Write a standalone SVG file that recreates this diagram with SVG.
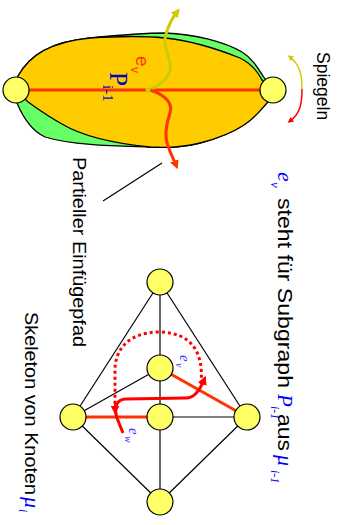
<svg xmlns="http://www.w3.org/2000/svg" width="342" height="525" viewBox="0 0 342 525">
<style>
.node{fill:#FFFF66;stroke:#000;stroke-width:1.2}
.blob{stroke:#000;stroke-width:1.3}
.edge{stroke:#000;stroke-width:1.2;fill:none}
.hot{stroke:#FF3300;stroke-width:3;fill:none}
.sans{font-family:"Liberation Sans",Arial,sans-serif;fill:#000}
.ser{font-family:"Liberation Serif","Times New Roman",serif;fill:#0000FF}
.it{font-style:italic}
</style>
<defs>
<marker id="ahYG" viewBox="0 0 10 10" refX="5" refY="5" markerWidth="9" markerHeight="9" markerUnits="userSpaceOnUse" orient="auto"><path d="M0,0 L10,5 L0,10 Z" fill="#CCCC00"/></marker>
<marker id="ahOR" viewBox="0 0 10 10" refX="5" refY="5" markerWidth="9" markerHeight="9" markerUnits="userSpaceOnUse" orient="auto"><path d="M0,0 L10,5 L0,10 Z" fill="#FF3300"/></marker>
<marker id="ahYGs" viewBox="0 0 10 10" refX="5" refY="5" markerWidth="6" markerHeight="6" markerUnits="userSpaceOnUse" orient="auto"><path d="M0,0 L10,5 L0,10 Z" fill="#CCCC00"/></marker>
<marker id="ahRs" viewBox="0 0 10 10" refX="5" refY="5" markerWidth="6" markerHeight="6" markerUnits="userSpaceOnUse" orient="auto"><path d="M0,0 L10,5 L0,10 Z" fill="#FF0000"/></marker>
<marker id="ahR" viewBox="0 0 10 10" refX="5" refY="5" markerWidth="9" markerHeight="9" markerUnits="userSpaceOnUse" orient="auto"><path d="M0,0 L10,5 L0,10 Z" fill="#FF0000"/></marker>
</defs>

<!-- top subgraph blob -->
<g id="blob">
<path class="blob" fill="#66FF66" d="M16,90 L18,76 C30,55 50,42 90,38 C120,35 140,33 165,33 C195,34 225,42 242,52 C252,58 258,68 265,79 L273,90 L268,101 C258,113 248,130 200,143 C180,148 165,148 150,147 C120,146 75,146 45,137 C30,130 22,115 17,103 Z"/>
<path class="blob" fill="#FFCC00" d="M16,90 L18,76 C30,55 50,42 90,38 C120,36 145,36 165,38 C195,41 220,50 240,58 C252,64 258,72 262,80 L273,90 L268,102 C258,112 250,130 200,143 C180,148 165,148 150,147 C110,143 82,136 62,124 C44,114 34,106 28,102 Z"/>
<line class="hot" x1="16" y1="90" x2="273" y2="90"/>
</g>

<g id="connectors">
<path d="M148,90 C160,86 173,76 170,63 C167,50 163,44 166,34 C169,24 173,17 177,12" stroke="#CCCC00" stroke-width="3" fill="none" marker-end="url(#ahYG)"/>
<path d="M150,90 C165,95 173,103 170,113 C166,125 164,136 168,146 C171,155 174,160 176,165" stroke="#FF3300" stroke-width="3" fill="none" marker-end="url(#ahOR)"/>
<circle cx="148" cy="90" r="2.5" fill="#CCCC00"/>
<path d="M302,89 C302,75 300,65 290,57" stroke="#CCCC00" stroke-width="1.5" fill="none" marker-end="url(#ahYGs)"/>
<path d="M302,89 C302,104 300,114 290,121" stroke="#FF0000" stroke-width="1.5" fill="none" marker-end="url(#ahRs)"/>
<line x1="162" y1="163" x2="103" y2="201" stroke="#000" stroke-width="1.2"/>

<!-- skeleton edges -->
<line class="edge" x1="160" y1="282" x2="73" y2="417"/>
<line class="edge" x1="160" y1="282" x2="247" y2="417"/>
<line class="edge" x1="160" y1="502" x2="73" y2="417"/>
<line class="edge" x1="160" y1="502" x2="247" y2="417"/>
<line class="edge" x1="160" y1="282" x2="160" y2="502"/>
<line class="edge" x1="73" y1="417" x2="160" y2="368"/>
<line class="edge" x1="160" y1="417" x2="247" y2="417"/>
<line class="hot" x1="73" y1="417" x2="160" y2="417"/>
<line class="hot" x1="160" y1="368" x2="247" y2="417"/>
<path d="M201,384 C204,350 190,333 160,332 C128,332 115,350 115,370 L115,404" stroke="#FF0000" stroke-width="3" stroke-dasharray="3,3" fill="none"/>
<path d="M115,403 L115,410" stroke="#FF0000" stroke-width="2" fill="none" marker-end="url(#ahR)"/>
<path d="M123,433 L117,418 C114,408 116,399 126,399 L186,398 C195,398 200,390 204,380" stroke="#FF0000" stroke-width="3" fill="none" marker-end="url(#ahR)"/>
</g>

<g id="n-p-left"><circle class="node" cx="16" cy="90" r="13"/></g>
<g id="n-p-right"><circle class="node" cx="273" cy="90" r="13"/></g>
<g id="n-top"><circle class="node" cx="160" cy="282" r="13"/></g>
<g id="n-mid"><circle class="node" cx="160" cy="368" r="13"/></g>
<g id="n-center"><circle class="node" cx="160" cy="417" r="13"/></g>
<g id="n-bottom"><circle class="node" cx="160" cy="502" r="13"/></g>
<g id="n-left"><circle class="node" cx="73" cy="417" r="13"/></g>
<g id="n-right"><circle class="node" cx="247" cy="417" r="13"/></g>

<g id="labels">
<text class="sans" font-size="19" style="fill:#FF3300" transform="translate(136,56) rotate(90)">e</text>
<text class="sans" font-size="12" style="fill:#FF3300" transform="translate(131,67) rotate(90)">v</text>
<text class="ser" font-size="25" style="fill:#0000CC" transform="translate(110,72) rotate(90)">P</text>
<text class="ser" font-size="15" style="fill:#0000CC" transform="translate(103,85) rotate(90)">i-1</text>

<text class="sans" font-size="17.5" transform="translate(317,52) rotate(90)">Spiegeln</text>
<text class="sans" font-size="18" textLength="190" lengthAdjust="spacingAndGlyphs" transform="translate(73,157) rotate(90)">Partieller Einfügepfad</text>

<text class="ser it" font-size="22" transform="translate(278,172) rotate(90)">e</text>
<text class="ser it" font-size="13" transform="translate(271,182) rotate(90)">v</text>
<text class="sans" font-size="20" textLength="190" lengthAdjust="spacingAndGlyphs" transform="translate(278,198) rotate(90)">steht für Subgraph</text>
<text class="ser it" font-size="21" transform="translate(278,394) rotate(90)">P</text>
<text class="ser it" font-size="12" transform="translate(271,406) rotate(90)">i-1</text>
<text class="sans" font-size="20" textLength="37" lengthAdjust="spacingAndGlyphs" transform="translate(278,414) rotate(90)">aus</text>
<text class="ser it" font-size="22" transform="translate(278,455) rotate(90)">μ</text>
<text class="ser it" font-size="12" transform="translate(271,470) rotate(90)">i-1</text>

<text class="sans" font-size="19" textLength="183" lengthAdjust="spacingAndGlyphs" transform="translate(25,312) rotate(90)">Skeleton von Knoten</text>
<text class="ser it" font-size="22" transform="translate(25,497) rotate(90)">μ</text>
<text class="ser it" font-size="12" transform="translate(19,509) rotate(90)">i</text>

<text class="ser it" font-size="15" style="fill:#3333FF" transform="translate(180,355) rotate(90)">e</text>
<text class="ser it" font-size="10" style="fill:#3333FF" transform="translate(176,363) rotate(90)">v</text>
<text class="ser it" font-size="15" style="fill:#3333FF" transform="translate(129,428) rotate(90)">e</text>
<text class="ser it" font-size="10" style="fill:#3333FF" transform="translate(125,436) rotate(90)">w</text>
</g>
</svg>
